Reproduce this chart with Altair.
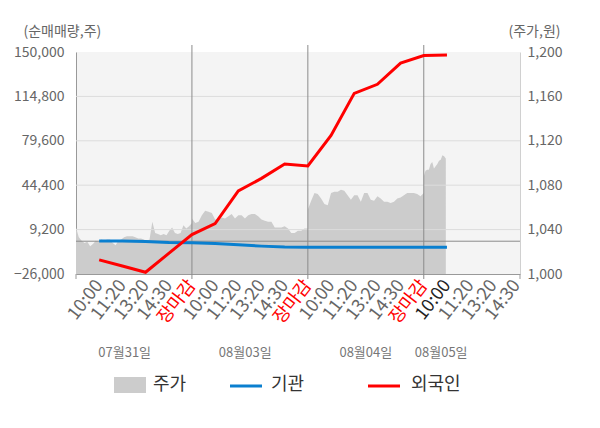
import json
import altair as alt
import pandas as pd

# ---------------- data ----------------
slots = list(range(16))
foreign = [-14800, -19700, -24600, -9700, 5200, 14000, 39800, 49800, 61200, 59700,
           83800, 117200, 124400, 141200, 147200, 147600]
institution = [200, 100, -200, -1100, -1200, -1900, -2900, -3900, -4600, -4800,
               -4800, -4800, -4800, -4800, -4800, -4800]

tick_labels = ["10:00", "11:20", "13:20", "14:30", "장마감"] * 3 + ["10:00", "11:20", "13:20", "14:30"]

price_day1 = [1042, 1033, 1030, 1028, 1029, 1025, 1027, 1030, 1029, 1031, 1030, 1031, 1031, 1028,
              1026, 1030, 1031, 1033, 1034, 1034, 1034, 1033, 1032, 1032, 1031, 1030, 1031, 1047,
              1037, 1036, 1035, 1036, 1035, 1039, 1042, 1037, 1036, 1037, 1044, 1041, 1043, 1046]
price_day2 = [1050, 1046, 1047, 1053, 1057, 1056, 1055, 1049, 1049, 1051, 1050, 1052, 1054, 1050,
              1053, 1053, 1050, 1053, 1054, 1054, 1052, 1049, 1048, 1047, 1047, 1042, 1042, 1042,
              1043, 1041, 1037, 1037, 1039, 1039, 1041, 1041]
price_day3 = [1058, 1066, 1073, 1072, 1068, 1063, 1062, 1073, 1074, 1074, 1076, 1075, 1071, 1067,
              1071, 1071, 1065, 1073, 1073, 1067, 1066, 1070, 1068, 1065, 1065, 1064, 1065, 1068,
              1069, 1071, 1073, 1073, 1073, 1072, 1070, 1073]
price_day4 = [1088, 1093, 1094, 1094, 1099, 1101, 1095, 1097, 1099, 1102, 1103, 1107, 1106, 1104]

day_lines = [4, 9, 14]
edge_ticks = [-1, 18.15]
date_labels = ["07월31일", "08월03일", "08월04일", "08월05일"]
date_pos = [1.1, 6.3, 11.5, 14.75]
left_ticks = [-26000, 9200, 44400, 79600, 114800, 150000]
grid_values = [9200, 44400, 79600, 114800]
right_ticks = [1000, 1040, 1080, 1120, 1160, 1200]

# ---------------- tables ----------------
rows = []
for d, vals in enumerate([price_day1, price_day2, price_day3]):
    n = len(vals)
    start = -1 + 5 * d
    for i, v in enumerate(vals):
        rows.append({"x": start + 5 * i / (n - 1), "price": v})
n4 = len(price_day4)
for i, v in enumerate(price_day4):
    rows.append({"x": 14 + 0.95 * i / (n4 - 1), "price": v})
price_df = pd.DataFrame(rows)

flow_df = pd.DataFrame({"x": slots, "foreign": foreign, "institution": institution})
grid_df = pd.DataFrame({"x": [0] * len(grid_values), "g": grid_values})
day_df = pd.DataFrame({"x": day_lines})
edge_df = pd.DataFrame({"x": edge_ticks})
date_df = pd.DataFrame({"x": date_pos, "label": date_labels})
one = pd.DataFrame({"k": [0]})

FONT = "Noto Sans CJK KR"
W, H = 444, 222
xscale = alt.Scale(domain=[-1, 18.15], nice=False, zero=False)
lscale = alt.Scale(domain=[-26000, 150000], nice=False, zero=False)
rscale = alt.Scale(domain=[1000, 1200], nice=False, zero=False)

label_expr = json.dumps(tick_labels, ensure_ascii=False) + "[datum.value]"

x_axis = alt.Axis(
    values=list(range(19)), labelExpr=label_expr, labelAngle=-52, labelFontSize=18,
    labelFont=FONT,
    labelColor={"condition": [{"test": "datum.value % 5 == 4", "value": "#ff0000"},
                              {"test": "datum.value == 15", "value": "#222222"}],
                "value": "#666666"},
    ticks=False, grid=False, domainColor="#999999", labelPadding=8,
    labelOverlap=False, labelFlush=False, labelBound=False, title=None,
)

left_axis = alt.Axis(
    orient="left", values=left_ticks, format=",.0f", grid=False, ticks=False,
    domainColor="#999999", labelColor="#666666", labelFontSize=14, labelFont=FONT,
    labelPadding=12, title="(순매매량,주)", titleAngle=0, titleX=-53, titleY=-21,
    titleAlign="left", titleBaseline="middle", titleColor="#666666",
    titleFontSize=14, titleFontWeight="normal", titleFont=FONT)

right_axis = alt.Axis(
    orient="right", values=right_ticks, format=",.0f", grid=False, ticks=False,
    domainColor="#d0d0d0", labelColor="#666666", labelFontSize=14, labelFont=FONT,
    labelPadding=7, title="(주가,원)", titleAngle=0, titleX=-12, titleY=-21,
    titleAlign="left", titleBaseline="middle", titleColor="#666666",
    titleFontSize=14, titleFontWeight="normal", titleFont=FONT)


def X(field="x"):
    return alt.X(f"{field}:Q", scale=xscale, axis=x_axis)


# ---------------- price (right axis) ----------------
area = alt.Chart(price_df).mark_area(color="#cccccc").encode(
    x=X(),
    y=alt.Y("price:Q", scale=rscale, axis=right_axis),
    y2=alt.datum(1000),
)

# ---------------- flows (left axis) ----------------
grid = alt.Chart(grid_df).mark_rule(color="#dcdcdc", strokeWidth=1).encode(
    y=alt.Y("g:Q", scale=lscale, axis=left_axis),
)

zero = alt.Chart(one).mark_rule(color="#8c8c8c", strokeWidth=1).encode(
    y=alt.datum(0, scale=lscale, axis=left_axis),
)

days = alt.Chart(day_df).mark_rule(color="#8c8c8c", strokeWidth=1).encode(
    x=X(),
    y=alt.value(-7), y2=alt.value(H + 5),
)
edges = alt.Chart(edge_df).mark_rule(color="#999999", strokeWidth=1).encode(
    x=X(),
    y=alt.value(H), y2=alt.value(H + 5),
)

blue = alt.Chart(flow_df).mark_line(color="#0a7fcf", strokeWidth=3).encode(
    x=X(),
    y=alt.Y("institution:Q", scale=lscale, axis=left_axis),
)
red = alt.Chart(flow_df).mark_line(color="#ff0000", strokeWidth=3).encode(
    x=X(),
    y=alt.Y("foreign:Q", scale=lscale, axis=left_axis),
)

dates = alt.Chart(date_df).mark_text(font=FONT, fontSize=13, color="#777777",
                                     align="center", baseline="middle").encode(
    x=X(),
    y=alt.value(301),
    text="label:N",
)

# ---------------- legend ----------------
leg_box = alt.Chart(one).mark_rect(color="#cccccc").encode(
    x=alt.value(38), x2=alt.value(70), y=alt.value(325), y2=alt.value(341))
leg_blue = alt.Chart(one).mark_rule(color="#0a7fcf", strokeWidth=3).encode(
    x=alt.value(154), x2=alt.value(186), y=alt.value(334))
leg_red = alt.Chart(one).mark_rule(color="#ff0000", strokeWidth=3).encode(
    x=alt.value(292), x2=alt.value(324), y=alt.value(334))


def leg_text(txt, xpos):
    return alt.Chart(one).mark_text(font=FONT, fontSize=18, color="#333333", align="left",
                                    baseline="middle", text=txt).encode(
        x=alt.value(xpos), y=alt.value(333))


left_group = alt.layer(grid, zero, days, edges, blue, red, dates,
                       leg_box, leg_blue, leg_red,
                       leg_text("주가", 77), leg_text("기관", 195), leg_text("외국인", 335))

chart = alt.layer(area, left_group).resolve_scale(y="independent").properties(
    width=W, height=H,
    autosize=alt.AutoSizeParams(type="none"),
    padding={"left": 68, "top": 44, "right": 72, "bottom": 146},
    background="#ffffff",
).configure_view(fill="#f4f4f4", stroke=None)

chart.save("out.html", embed_options={"renderer": "svg", "actions": False})
